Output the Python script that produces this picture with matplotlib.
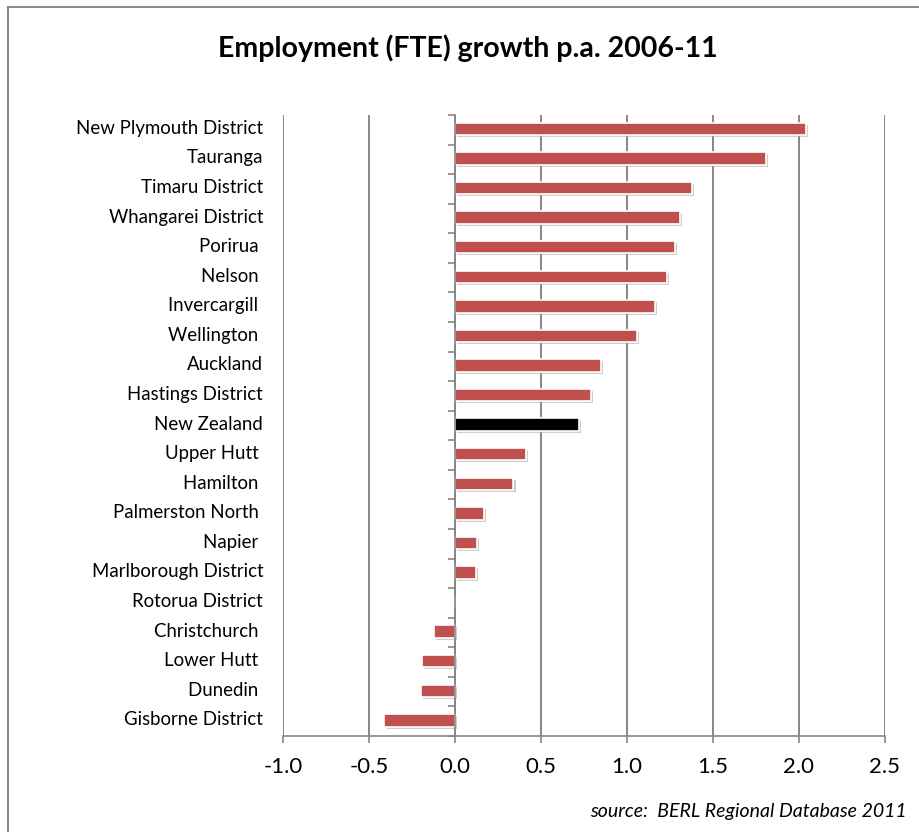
import numpy as np
import matplotlib
matplotlib.use("Agg")
from matplotlib import pyplot as plt
from matplotlib import patheffects as pe
from matplotlib.patches import Rectangle

plt.rcParams['font.family'] = ['Lato', 'DejaVu Sans']

# data, top to bottom as in the chart
regions = ["New Plymouth District", "Tauranga", "Timaru District", "Whangarei District",
           "Porirua ", "Nelson ", "Invercargill ", "Wellington ", "Auckland",
           "Hastings District", "New Zealand", "Upper Hutt ", "Hamilton ",
           "Palmerston North ", "Napier ", "Marlborough District", "Rotorua District",
           "Christchurch ", "Lower Hutt ", "Dunedin ", "Gisborne District"]
growth = [2.04, 1.81, 1.38, 1.31, 1.28, 1.23, 1.16, 1.06, 0.85, 0.79, 0.72,
          0.41, 0.34, 0.17, 0.13, 0.12, 0.0, -0.12, -0.19, -0.20, -0.41]
highlight = "New Zealand"

red = "#C0504D"
grid_col = "#878787"

fig = plt.figure(figsize=(9.2, 8.32), dpi=100)
ax = fig.add_axes([283/920, 1-736/832, 602/920, 621/832])

n = len(regions)
ypos = np.arange(n)[::-1] + 0.03
cols = ["black" if r.strip() == highlight else red for r in regions]
shadow = [pe.SimplePatchShadow(offset=(1.5, -1.5), shadow_rgbFace="#a0a0a0", alpha=0.5), pe.Normal()]
bars = ax.barh(ypos, growth, height=0.42, color=cols, edgecolor="white", linewidth=1.2, zorder=3)
for b in bars:
    b.set_path_effects(shadow)

ax.set_xlim(-1.0, 2.5)
ax.set_ylim(-0.5, n - 0.5)
ax.set_xticks(np.arange(-1.0, 2.51, 0.5))
ax.set_xticklabels([f"{v:.1f}" for v in np.arange(-1.0, 2.51, 0.5)], fontsize=16)
ax.grid(axis="x", color=grid_col, linewidth=1.4, zorder=0)
ax.tick_params(axis="x", colors=grid_col, labelcolor="black", length=5, width=1.2, pad=10)

# category axis sits at zero
for s in ["top", "right"]:
    ax.spines[s].set_visible(False)
ax.spines["left"].set_position(("data", 0))
ax.spines["left"].set_color(grid_col)
ax.spines["left"].set_linewidth(1.2)
ax.spines["left"].set_zorder(4)
ax.spines["bottom"].set_color(grid_col)
ax.spines["bottom"].set_linewidth(1.2)
ax.set_yticks(np.arange(-0.5, n, 1.0))
ax.set_yticklabels([])
ax.tick_params(axis="y", colors=grid_col, length=5, width=1.2)

for y, r in zip(ypos, regions):
    ax.text(-0.033, y + 0.02, r, transform=ax.get_yaxis_transform(), ha="right", va="center", fontsize=13.4)

fig.text(468/920, 1-48/832, "Employment (FTE) growth p.a. 2006-11", ha="center", va="center",
         fontsize=20.5, fontweight="bold")
fig.text(907/920, 1-811/832, "source:  BERL Regional Database 2011", ha="right", va="center",
         fontsize=14, style="italic")

fig.patches.append(Rectangle((8/920, -0.1), 1.2, 1 - 7/832 + 0.1, transform=fig.transFigure,
                             fill=False, edgecolor="#8c8c8c", linewidth=1.5))

fig.savefig("out.png", dpi=100)
